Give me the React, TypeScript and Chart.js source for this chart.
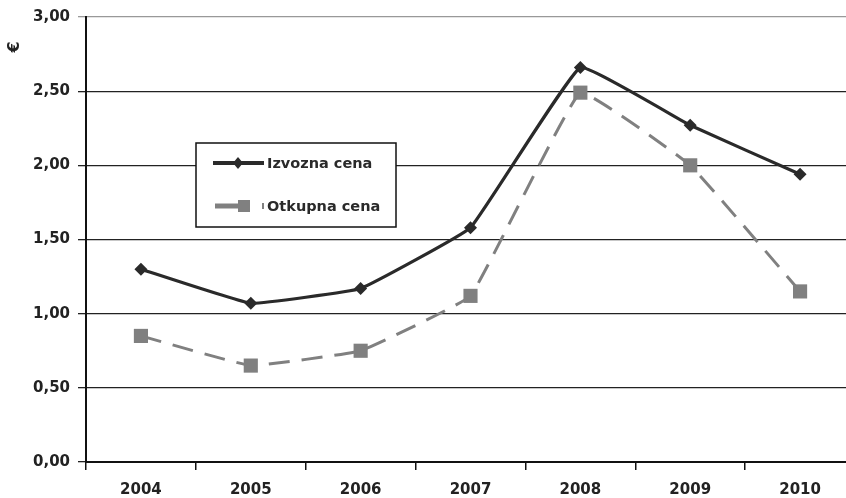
import React, { useEffect, useRef } from 'react';
import { Chart, registerables } from 'chart.js';

Chart.register(...registerables);

const years = ['2004', '2005', '2006', '2007', '2008', '2009', '2010'];
const izvozna = [1.30, 1.07, 1.17, 1.58, 2.66, 2.27, 1.94];
const otkupna = [0.85, 0.65, 0.75, 1.12, 2.49, 2.00, 1.15];
const seriesNames = ['Izvozna cena', 'Otkupna cena'];
const yMin = 0;
const yMax = 3;
const yStep = 0.5;
const yUnit = '€';

const FONT = '"DejaVu Sans", "Liberation Sans", Arial, sans-serif';

const overlayPlugin = {
  id: 'overlay',
  afterDraw(chart: any) {
    const ctx = chart.ctx as CanvasRenderingContext2D;
    ctx.save();
    // y unit label
    ctx.save();
    ctx.translate(15, 47);
    ctx.rotate(-Math.PI / 2);
    ctx.font = `bold 16px ${FONT}`;
    ctx.fillStyle = '#222';
    ctx.textAlign = 'center';
    ctx.textBaseline = 'middle';
    ctx.fillText(yUnit, 0, 0);
    ctx.restore();

    // legend box
    const bx = 196, by = 143, bw = 200, bh = 84;
    ctx.fillStyle = '#fff';
    ctx.fillRect(bx, by, bw, bh);
    ctx.strokeStyle = '#111';
    ctx.lineWidth = 1.5;
    ctx.strokeRect(bx, by, bw, bh);

    // row 1
    const y1 = 163;
    ctx.strokeStyle = '#2a2a2a';
    ctx.lineWidth = 4;
    ctx.beginPath();
    ctx.moveTo(213, y1);
    ctx.lineTo(264, y1);
    ctx.stroke();
    ctx.fillStyle = '#2a2a2a';
    ctx.beginPath();
    ctx.moveTo(238, y1 - 6);
    ctx.lineTo(243, y1);
    ctx.lineTo(238, y1 + 6);
    ctx.lineTo(233, y1);
    ctx.closePath();
    ctx.fill();

    // row 2
    const y2 = 206;
    ctx.strokeStyle = '#808080';
    ctx.lineWidth = 5;
    ctx.beginPath();
    ctx.moveTo(215, y2);
    ctx.lineTo(240, y2);
    ctx.stroke();
    ctx.fillStyle = '#808080';
    ctx.fillRect(238, y2 - 6, 12, 12);
    ctx.fillRect(262, y2 - 3, 2, 6);

    ctx.font = `bold 14.5px ${FONT}`;
    ctx.fillStyle = '#2a2a2a';
    ctx.textAlign = 'left';
    ctx.textBaseline = 'middle';
    ctx.fillText(seriesNames[0], 267, y1 + 1);
    ctx.fillText(seriesNames[1], 267, y2 + 1);
    ctx.restore();
  },
};

export default function App() {
  const canvasRef = useRef<HTMLCanvasElement | null>(null);

  useEffect(() => {
    const canvas = canvasRef.current;
    if (!canvas) return;
    const chart = new Chart(canvas, {
      type: 'line',
      data: {
        labels: years,
        datasets: [
          {
            label: seriesNames[0],
            data: izvozna,
            borderColor: '#2a2a2a',
            backgroundColor: '#2a2a2a',
            borderWidth: 3.2,
            pointStyle: 'rectRot',
            pointRadius: 6.5,
            pointBorderWidth: 0,
            tension: 0.08,
            fill: false,
          },
          {
            label: seriesNames[1],
            data: otkupna,
            borderColor: '#808080',
            backgroundColor: '#808080',
            borderWidth: 3,
            borderDash: [21, 12],
            pointStyle: 'rect',
            pointRadius: 10,
            pointBorderWidth: 0,
            tension: 0.08,
            fill: false,
          },
        ],
      },
      options: {
        responsive: false,
        animation: false,
        devicePixelRatio: 1,
        layout: { padding: { top: 13, right: 1, left: 0, bottom: 0 } },
        plugins: {
          legend: { display: false },
          tooltip: { enabled: false },
        },
        scales: {
          x: {
            type: 'category',
            offset: true,
            grid: {
              offset: true,
              drawOnChartArea: false,
              drawTicks: true,
              tickLength: 8,
              color: '#111',
              lineWidth: 1.5,
            },
            border: { display: true, color: '#111', width: 2 },
            ticks: {
              color: '#222',
              font: { family: FONT, size: 15, weight: 'bold' },
              padding: 11,
              maxRotation: 0,
            },
            afterFit: (scale: any) => {
              scale.height = 36;
            },
          },
          y: {
            min: yMin,
            max: yMax,
            grid: {
              color: (c: any) => (c.tick && c.tick.value === yMax ? '#999' : '#222'),
              lineWidth: 1.3,
              tickLength: 8,
              drawTicks: true,
            },
            border: { display: true, color: '#111', width: 2 },
            ticks: {
              stepSize: yStep,
              color: '#222',
              font: { family: FONT, size: 15, weight: 'bold' },
              padding: 8,
              callback: (v: any) => Number(v).toFixed(2).replace('.', ','),
            },
            afterFit: (scale: any) => {
              scale.width = 86;
            },
          },
        },
      },
      plugins: [overlayPlugin],
    });
    return () => chart.destroy();
  }, []);

  return (
    <div
      style={{
        position: 'fixed',
        left: 0,
        top: 0,
        width: 846,
        height: 498,
        overflow: 'hidden',
        background: '#fff',
      }}
    >
      <canvas ref={canvasRef} width={865} height={498} style={{ display: 'block' }} />
    </div>
  );
}
